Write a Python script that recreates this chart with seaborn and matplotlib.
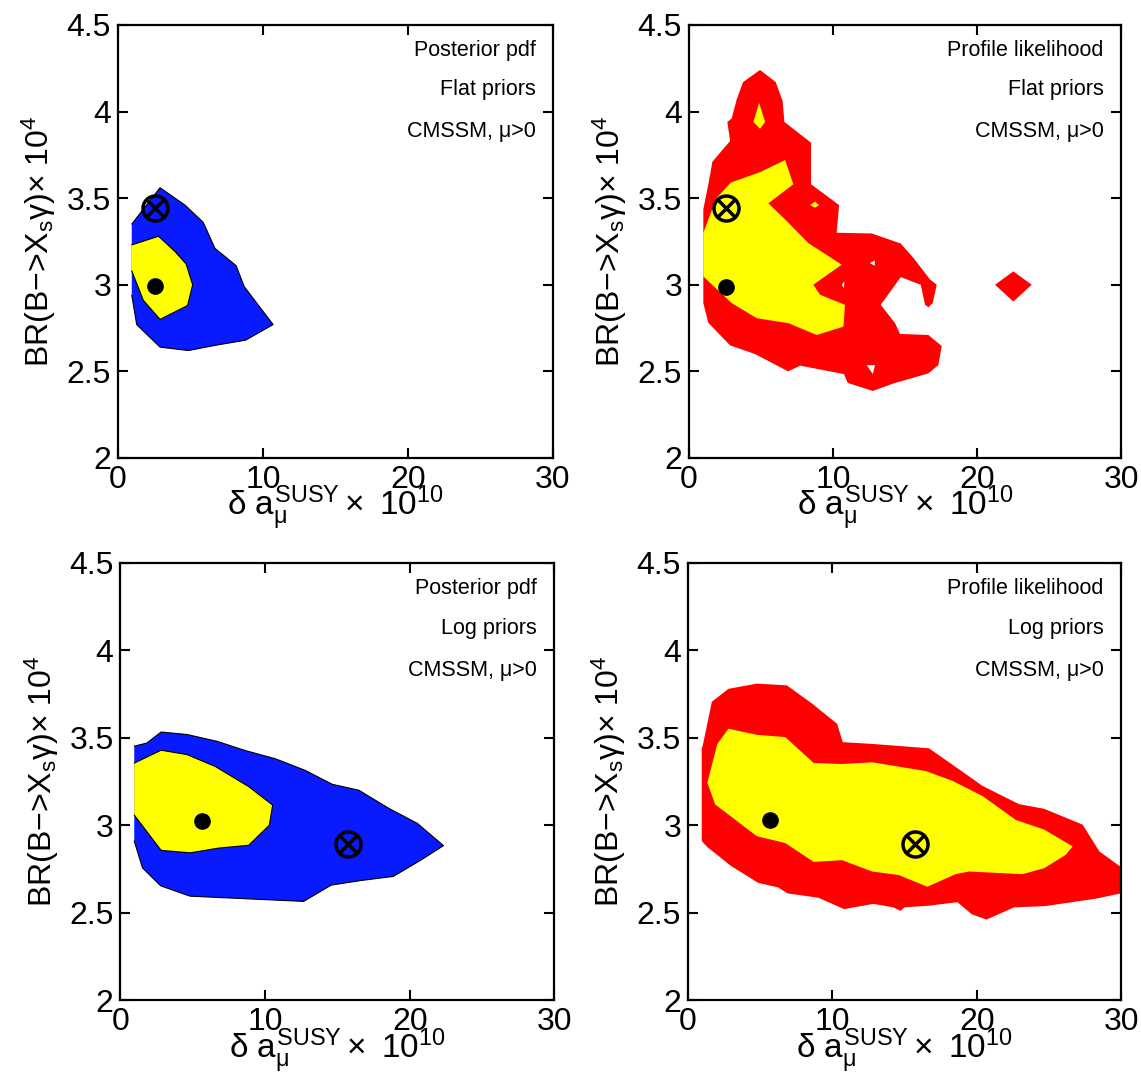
import seaborn as sns
import matplotlib.pyplot as plt
from matplotlib.ticker import FormatStrFormatter

# ---- data (contour outlines, best fit / mean points) ----
# top left: posterior pdf, flat priors
tl_blue_x = [0.95, 2.90, 4.62, 5.88, 6.69, 8.15, 8.70, 10.7, 8.80, 6.70, 4.85, 2.90, 1.29, 0.95]
tl_blue_y = [3.35, 3.56, 3.46, 3.36, 3.21, 3.11, 2.99, 2.77, 2.68, 2.65, 2.62, 2.64, 2.77, 2.94]
tl_yel_x = [0.95, 2.80, 3.95, 4.70, 5.15, 4.80, 2.90, 1.75, 0.95]
tl_yel_y = [3.23, 3.28, 3.19, 3.12, 3.00, 2.88, 2.80, 2.91, 3.08]
tl_dot = (2.55, 2.99)
tl_cross = (2.55, 3.445)

# top right: profile likelihood, flat priors
tr_red_x = [0.99, 1.34, 1.62, 2.85, 2.66, 2.96, 3.31, 3.75, 4.93, 6.02, 6.50, 6.62, 8.47, 8.47,
            10.42, 10.25, 12.69, 14.70, 15.58, 16.74, 17.20, 16.92, 16.62, 16.39, 16.09, 14.70,
            13.31, 14.31, 14.65, 16.62, 17.55, 17.31, 16.62, 14.19, 12.76, 11.02, 10.76, 7.72,
            6.88, 4.58, 2.85, 1.34, 0.99]
tr_red_y = [3.435, 3.58, 3.71, 3.83, 3.94, 3.96, 4.07, 4.17, 4.24, 4.17, 4.06, 3.94, 3.82, 3.58,
            3.46, 3.30, 3.296, 3.238, 3.155, 3.03, 3.00, 2.894, 2.87, 2.884, 3.00, 3.044,
            2.884, 2.778, 2.716, 2.71, 2.646, 2.536, 2.488, 2.43, 2.387, 2.433, 2.484, 2.533,
            2.50, 2.60, 2.65, 2.78, 2.894]
tr_holes_x = [[12.55, 12.90, 12.90], [12.34, 12.92, 12.76], [10.60, 10.80, 10.75]]
tr_holes_y = [[3.125, 3.14, 3.11], [2.536, 2.536, 2.484], [3.00, 3.02, 2.98]]
tr_isl_x = [[4.86, 5.28, 4.93, 4.47], [8.40, 8.75, 9.03, 8.75]]
tr_isl_y = [[4.05, 3.94, 3.90, 3.94], [3.46, 3.48, 3.46, 3.445]]
tr_diam_x = [21.25, 22.52, 23.80, 22.52]
tr_diam_y = [3.00, 3.077, 3.00, 2.903]
tr_yel_x = [0.99, 1.90, 2.90, 4.93, 6.67, 7.24, 5.51, 6.67, 8.29, 10.60, 8.63, 9.10, 10.83,
            10.72, 8.87, 6.90, 4.70, 2.96, 0.99]
tr_yel_y = [3.30, 3.50, 3.59, 3.65, 3.72, 3.58, 3.47, 3.377, 3.24, 3.116, 3.00, 2.942, 2.884,
            2.758, 2.71, 2.778, 2.807, 2.894, 3.048]
tr_dot = (2.6, 2.987)
tr_cross = (2.6, 3.445)

# bottom left: posterior pdf, log priors
bl_blue_x = [0.95, 1.82, 2.81, 4.59, 6.67, 8.63, 10.71, 12.79, 14.64, 16.48, 18.56, 20.53,
             22.33, 20.76, 18.86, 16.58, 14.56, 12.66, 4.81, 2.78, 1.52, 0.95]
bl_blue_y = [3.452, 3.47, 3.533, 3.519, 3.48, 3.427, 3.38, 3.313, 3.234, 3.20, 3.096, 3.01,
             2.883, 2.80, 2.707, 2.683, 2.657, 2.564, 2.594, 2.653, 2.756, 2.91]
bl_yel_x = [0.95, 2.81, 4.59, 6.55, 8.86, 10.52, 10.29, 8.86, 6.78, 4.82, 2.81, 0.95]
bl_yel_y = [3.355, 3.429, 3.404, 3.336, 3.221, 3.115, 3.00, 2.885, 2.869, 2.842, 2.856, 3.058]
bl_dot = (5.65, 3.025)
bl_cross = (15.7, 2.894)

# bottom right: profile likelihood, log priors
br_red_x = [0.95, 1.05, 1.65, 2.80, 4.77, 6.85, 8.59, 10.33, 10.72, 12.76, 16.69, 18.77, 20.40,
            22.94, 24.67, 27.34, 28.50, 30.0, 30.0, 28.28, 24.73, 22.58, 20.68, 19.67, 18.66,
            16.76, 14.99, 14.73, 14.23, 12.84, 10.81, 9.04, 6.89, 6.25, 4.86, 2.96, 1.32, 0.95]
br_red_y = [3.436, 3.467, 3.706, 3.78, 3.81, 3.80, 3.696, 3.58, 3.475, 3.465, 3.44, 3.32, 3.225,
            3.12, 3.094, 3.003, 2.85, 2.76, 2.61, 2.58, 2.537, 2.53, 2.46, 2.49, 2.56,
            2.54, 2.53, 2.51, 2.53, 2.55, 2.52, 2.585, 2.61, 2.644, 2.67, 2.768, 2.876, 2.91]
br_yel_x = [1.34, 2.03, 2.80, 4.77, 6.74, 8.70, 10.67, 12.76, 16.46, 18.31, 20.40, 22.71, 24.67,
            26.65, 26.16, 24.67, 23.17, 19.47, 18.54, 16.58, 14.60, 12.76, 10.67, 8.70, 6.74,
            4.77, 1.875]
br_yel_y = [3.244, 3.465, 3.552, 3.517, 3.504, 3.356, 3.35, 3.36, 3.31, 3.254, 3.167, 3.03, 2.975,
            2.879, 2.83, 2.754, 2.72, 2.735, 2.72, 2.648, 2.715, 2.735, 2.80, 2.79, 2.898,
            2.937, 3.119]
br_dot = (5.7, 3.027)
br_cross = (15.76, 2.894)

labels_tl = ['Posterior pdf', 'Flat priors', 'CMSSM, μ>0']
labels_tr = ['Profile likelihood', 'Flat priors', 'CMSSM, μ>0']
labels_bl = ['Posterior pdf', 'Log priors', 'CMSSM, μ>0']
labels_br = ['Profile likelihood', 'Log priors', 'CMSSM, μ>0']

xticks = [0, 10, 20, 30]
yticks = [2, 2.5, 3, 3.5, 4, 4.5]

BLUE = '#0a1aff'
YELLOW = '#ffff00'
RED = '#ff0000'

sns.set_style('ticks')
plt.rcParams['font.family'] = ['Liberation Sans', 'DejaVu Sans']
plt.rcParams['mathtext.fontset'] = 'custom'
plt.rcParams['mathtext.rm'] = 'Liberation Sans'
plt.rcParams['mathtext.it'] = 'Liberation Sans'
plt.rcParams['mathtext.bf'] = 'Liberation Sans:bold'
for k in ['text.color', 'axes.labelcolor', 'xtick.color', 'ytick.color']:
    plt.rcParams[k] = 'black'

fig = plt.figure(figsize=(11.41, 10.74), dpi=100)
ax_tl = fig.add_axes([0.1034, 0.5736, 0.3812, 0.4032])
ax_tr = fig.add_axes([0.6039, 0.5736, 0.3786, 0.4032])
ax_bl = fig.add_axes([0.1056, 0.0689, 0.3803, 0.4069])
ax_br = fig.add_axes([0.6030, 0.0689, 0.3795, 0.4069])


def style_axes(ax, labels):
    ax.set_xlim(0, 30)
    ax.set_ylim(2, 4.5)
    ax.set_xticks(xticks)
    ax.set_yticks(yticks)
    ax.yaxis.set_major_formatter(FormatStrFormatter('%g'))
    ax.tick_params(direction='in', length=7, width=1.5, labelsize=23,
                   top=True, right=True, pad=5)
    for s in ax.spines.values():
        s.set_linewidth(1.6)
        s.set_color('k')
    ax.set_xlabel(r'$\delta\ a_{\mu}^{SUSY}\times\ 10^{10}$', fontsize=24)
    ax.xaxis.set_label_coords(0.5, -0.06)
    ax.set_ylabel(r'BR(B$-$>X$_s\gamma$)$\times$ 10$^4$', fontsize=23, labelpad=6)
    for lab, yy in zip(labels, [0.942, 0.85, 0.753]):
        ax.text(0.96, yy, lab, transform=ax.transAxes, ha='right', va='center', fontsize=15.5)


def markers(ax, dot, cross):
    ax.plot(*dot, marker='o', ms=11, color='k', ls='none', zorder=5)
    ax.plot(*cross, marker='o', ms=18, mfc='none', mec='k', mew=2.5, ls='none', zorder=5)
    ax.plot(*cross, marker='x', ms=11, mec='k', mew=2.5, ls='none', zorder=5)


# posterior panels: filled contours with thin black contour lines
for ax, bx, by, yx, yy, dot, cross, labels in [
        (ax_tl, tl_blue_x, tl_blue_y, tl_yel_x, tl_yel_y, tl_dot, tl_cross, labels_tl),
        (ax_bl, bl_blue_x, bl_blue_y, bl_yel_x, bl_yel_y, bl_dot, bl_cross, labels_bl)]:
    ax.fill(bx, by, color=BLUE, lw=0)
    ax.plot(bx, by, color='k', lw=0.8)
    ax.fill(yx, yy, color=YELLOW, lw=0)
    ax.plot(yx, yy, color='k', lw=0.8)
    markers(ax, dot, cross)
    style_axes(ax, labels)

# profile likelihood, flat priors
ax_tr.fill(tr_red_x, tr_red_y, color=RED, lw=0)
ax_tr.fill(tr_diam_x, tr_diam_y, color=RED, lw=0)
for hx, hy in zip(tr_holes_x, tr_holes_y):
    ax_tr.fill(hx, hy, color='white', lw=0)
ax_tr.fill(tr_yel_x, tr_yel_y, color=YELLOW, lw=0)
for ix, iy in zip(tr_isl_x, tr_isl_y):
    ax_tr.fill(ix, iy, color=YELLOW, lw=0)
markers(ax_tr, tr_dot, tr_cross)
style_axes(ax_tr, labels_tr)

# profile likelihood, log priors
ax_br.fill(br_red_x, br_red_y, color=RED, lw=0)
ax_br.fill(br_yel_x, br_yel_y, color=YELLOW, lw=0)
markers(ax_br, br_dot, br_cross)
style_axes(ax_br, labels_br)

fig.savefig('out.png', dpi=100)
